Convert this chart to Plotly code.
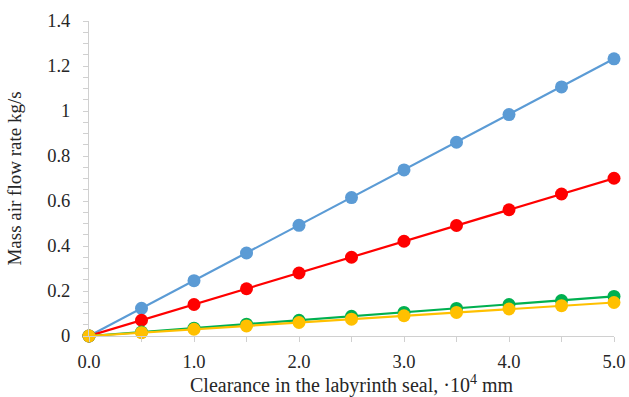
import plotly.graph_objects as go

x = [0.0, 0.5, 1.0, 1.5, 2.0, 2.5, 3.0, 3.5, 4.0, 4.5, 5.0]
blue = [0.0, 0.123, 0.246, 0.369, 0.492, 0.615, 0.738, 0.861, 0.984, 1.107, 1.232]
red = [0.0, 0.070, 0.140, 0.210, 0.280, 0.350, 0.421, 0.491, 0.561, 0.631, 0.701]
green = [0.0, 0.0175, 0.035, 0.0525, 0.070, 0.0875, 0.105, 0.1225, 0.140, 0.1575, 0.176]
yellow = [0.0, 0.015, 0.030, 0.045, 0.060, 0.075, 0.090, 0.105, 0.120, 0.135, 0.149]
y_ticks = [0, 0.2, 0.4, 0.6, 0.8, 1.0, 1.2, 1.4]
y_labels = ["0", "0.2", "0.4", "0.6", "0.8", "1", "1.2", "1.4"]

series = [(blue, "#5B9BD5"), (red, "#FF0000"), (green, "#00B050"), (yellow, "#FFC000")]

fig = go.Figure()
for ys, c in series:
    fig.add_trace(go.Scatter(x=x, y=ys, mode="lines+markers",
                             line=dict(color=c, width=2.2),
                             marker=dict(color=c, size=13),
                             showlegend=False, cliponaxis=False))

family = "Liberation Serif, Times New Roman, serif"
tick_font = dict(family=family, size=18.5, color="#262626")
fig.update_layout(
    width=629, height=397,
    margin=dict(l=89, r=15, t=21, b=61, autoexpand=False),
    plot_bgcolor="white", paper_bgcolor="white",
    font=dict(family=family, size=18, color="#262626"),
)
fig.update_xaxes(range=[0, 5], dtick=1, tick0=0, tickformat=".1f", automargin=False,
                 showgrid=False, zeroline=False,
                 showline=True, linecolor="#D0D0D0", linewidth=1,
                 ticks="outside", ticklen=5, tickcolor="#D0D0D0",
                 ticklabelstandoff=4,
                 minor=dict(dtick=0.5, ticks="outside", ticklen=5, tickcolor="#D0D0D0"),
                 title=dict(text="Clearance in the labyrinth seal, ·10<sup>4</sup> mm",
                            font=dict(family=family, size=20, color="#262626"), standoff=7),
                 tickfont=tick_font)
fig.update_yaxes(range=[0, 1.4], automargin=False,
                 tickvals=y_ticks, ticktext=y_labels,
                 showgrid=False, zeroline=False,
                 showline=True, linecolor="#D0D0D0", linewidth=1,
                 ticks="outside", ticklen=5, tickcolor="#D0D0D0",
                 ticklabelstandoff=9,
                 minor=dict(dtick=0.05, ticks="outside", ticklen=5, tickcolor="#D0D0D0"),
                 title=dict(text="Mass air flow rate kg/s",
                            font=dict(family=family, size=19, color="#262626"), standoff=20),
                 tickfont=tick_font)

fig.write_html("out.html", config={"displayModeBar": False},
               post_script="document.body.style.margin='0';document.body.style.overflow='hidden';")
